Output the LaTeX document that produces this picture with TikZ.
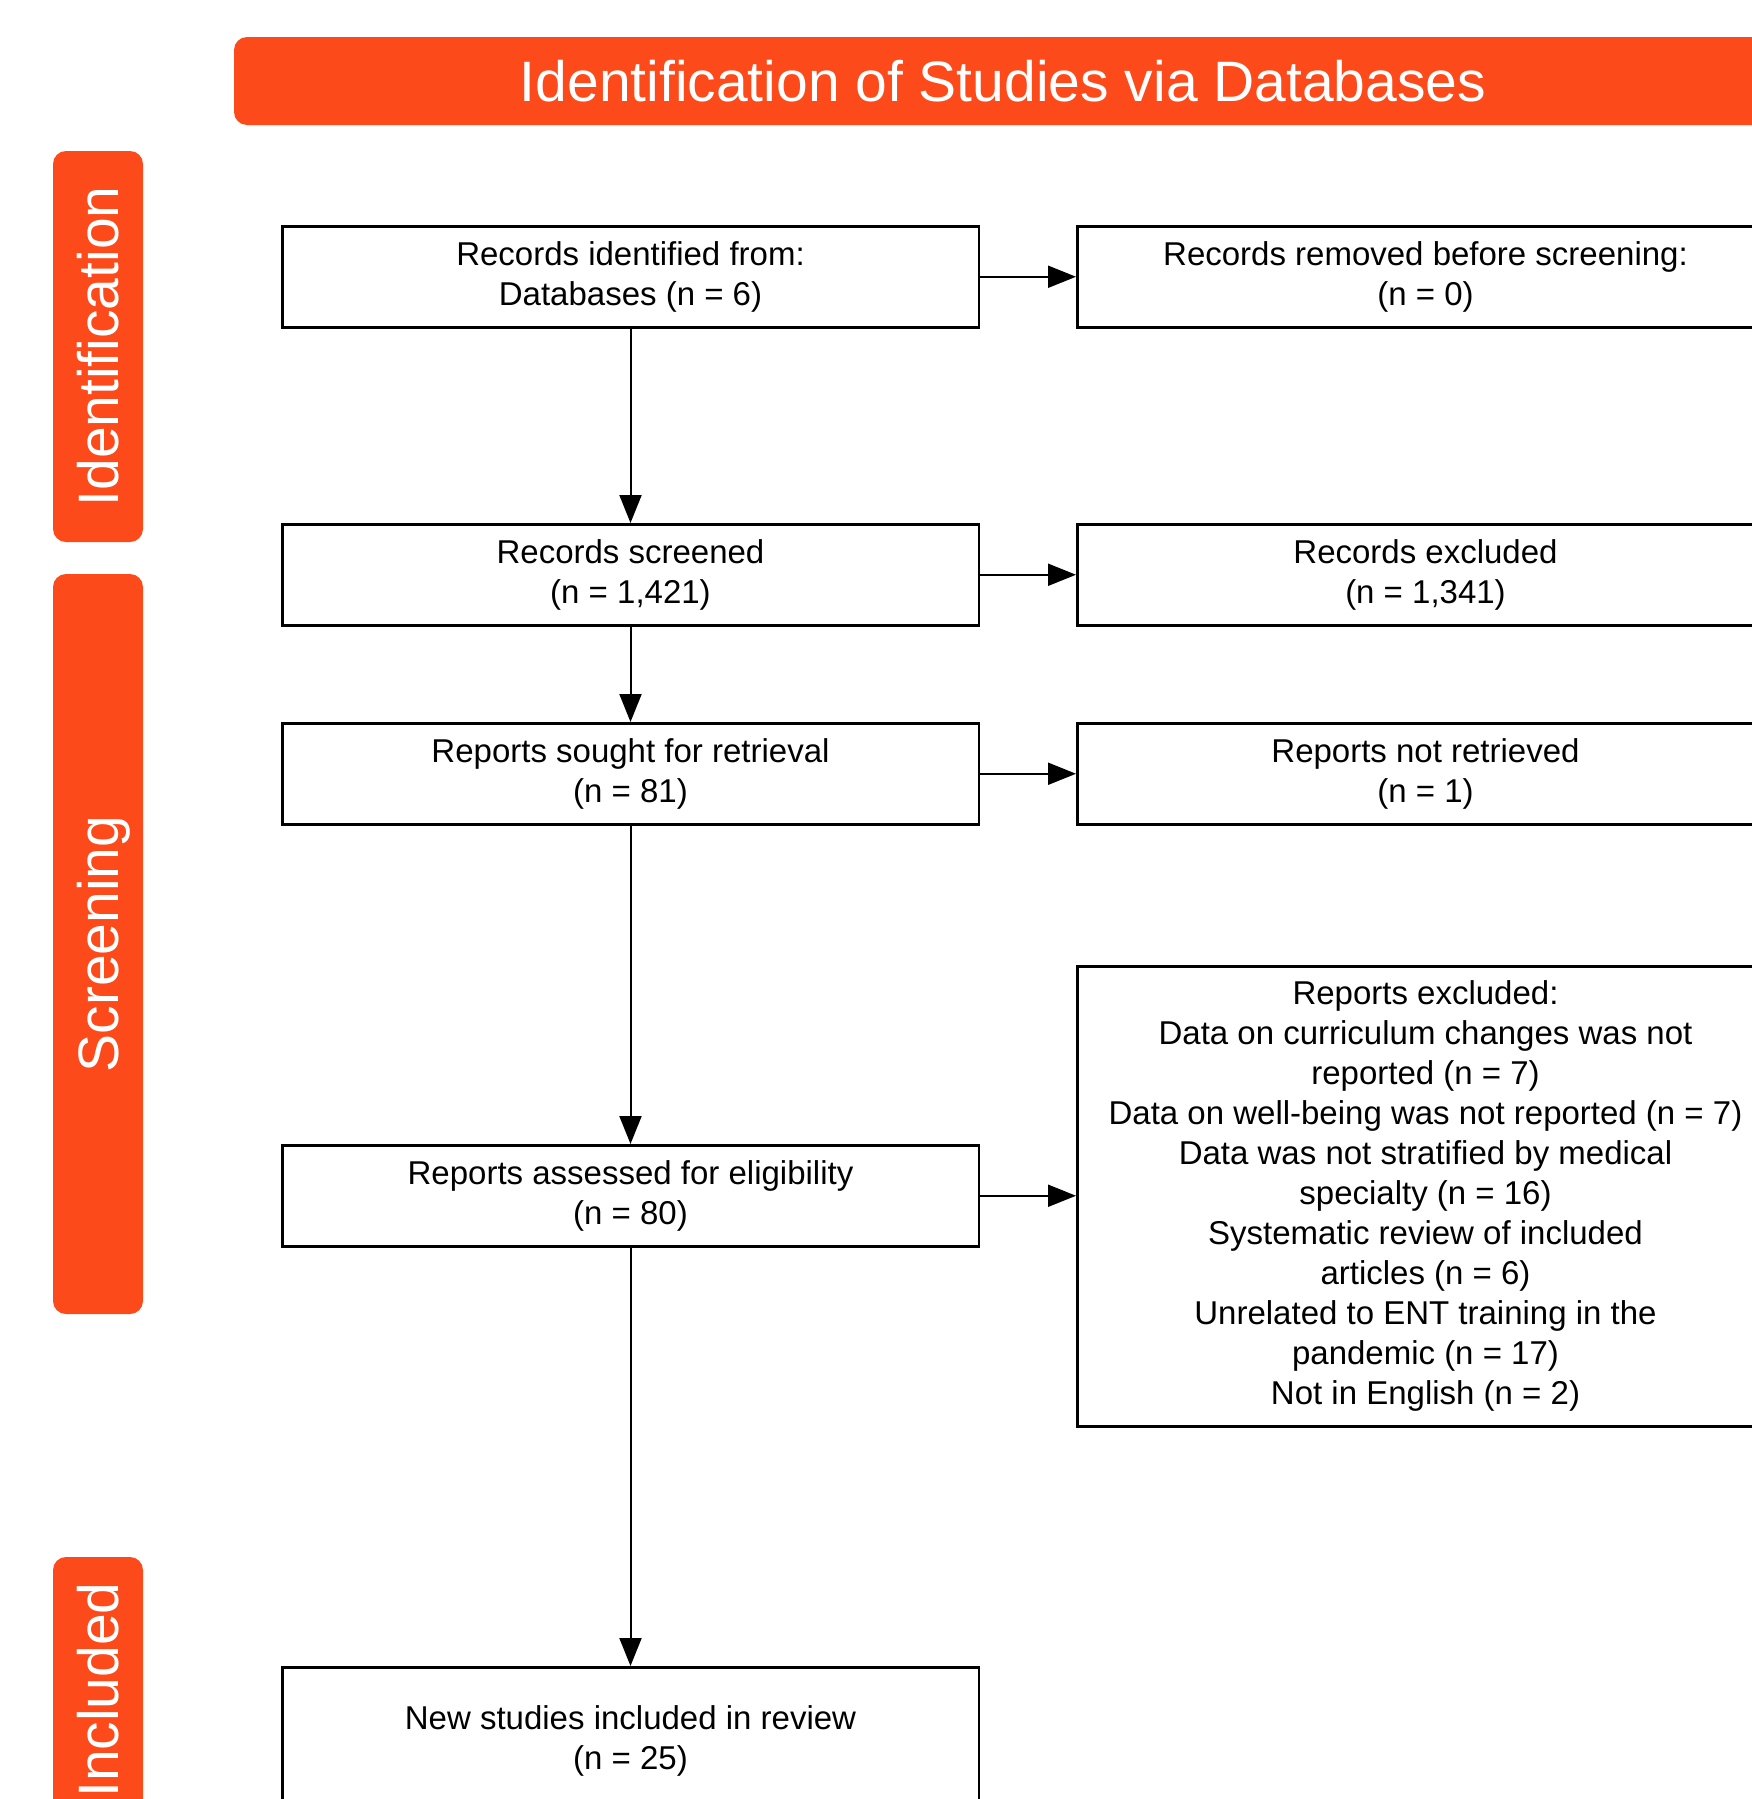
\documentclass[tikz,border=0pt]{standalone}
\usepackage{fontspec}
\setmainfont{Liberation Sans}
\usetikzlibrary{arrows.meta}
\definecolor{prisma}{RGB}{252,74,26}
\begin{document}
\begin{tikzpicture}[x=1pt,y=-1pt,
  box/.style={draw=black,line width=2.5pt,rectangle,anchor=north west,minimum width=696.5pt,inner sep=0pt,align=center,font=\fontsize{33}{40}\selectfont},
  arr/.style={draw=black,line width=2pt,-{Triangle[length=28pt,width=22pt]}},
  band/.style={fill=prisma,draw=none,rounded corners=13pt},
  bandlabel/.style={text=white,font=\fontsize{57}{68}\selectfont,text height=41pt,text depth=0pt,inner sep=0pt}]
\useasboundingbox (0,0) rectangle (1752,1799);
\clip (0,0) rectangle (1752,1799);
\fill[white] (0,0) rectangle (1752,1799);
% bands
\fill[band] (234,37) rectangle (1772,125);
\node[bandlabel] (hdr) at (1003,81) {Identification of Studies via Databases};
\fill[band] (53,151) rectangle (143,542);
\node[bandlabel,rotate=90] (lid) at (98,346.5) {Identification};
\fill[band] (53,574) rectangle (143,1314);
\node[bandlabel,rotate=90] (lsc) at (98,944) {Screening};
\fill[band] (53,1557) rectangle (143,1830);
\node[bandlabel,rotate=90] (lin) at (98,1690) {Included};
% boxes
\node[box,minimum height=101pt] (a1) at (281,225) {Records identified from:\\Databases (n = 6)};
\node[box,minimum height=101pt] (b1) at (1076,225) {Records removed before screening:\\(n = 0)};
\node[box,minimum height=101pt] (a2) at (281,523) {Records screened\\(n = 1,421)};
\node[box,minimum height=101pt] (b2) at (1076,523) {Records excluded\\(n = 1,341)};
\node[box,minimum height=101pt] (a3) at (281,722) {Reports sought for retrieval\\(n = 81)};
\node[box,minimum height=101pt] (b3) at (1076,722) {Reports not retrieved\\(n = 1)};
\node[box,minimum height=101pt] (a4) at (281,1144) {Reports assessed for eligibility\\(n = 80)};
\node[box,minimum height=460pt] (b4) at (1076,965) {Reports excluded:\\Data on curriculum changes was not\\reported (n = 7)\\Data on well-being was not reported (n = 7)\\Data was not stratified by medical\\specialty (n = 16)\\Systematic review of included\\articles (n = 6)\\Unrelated to ENT training in the\\pandemic (n = 17)\\Not in English (n = 2)};
\node[box,minimum height=148pt] (a5) at (281,1666) {New studies included in review\\(n = 25)};
% arrows
\draw[arr] (a1.south) -- (a2.north);
\draw[arr] (a2.south) -- (a3.north);
\draw[arr] (a3.south) -- (a4.north);
\draw[arr] (a4.south) -- (a5.north);
\draw[arr] (a1.east) -- (b1.west);
\draw[arr] (a2.east) -- (b2.west);
\draw[arr] (a3.east) -- (b3.west);
\draw[arr] (a4.east) -- (a4.east -| b4.west);
\end{tikzpicture}
\end{document}
